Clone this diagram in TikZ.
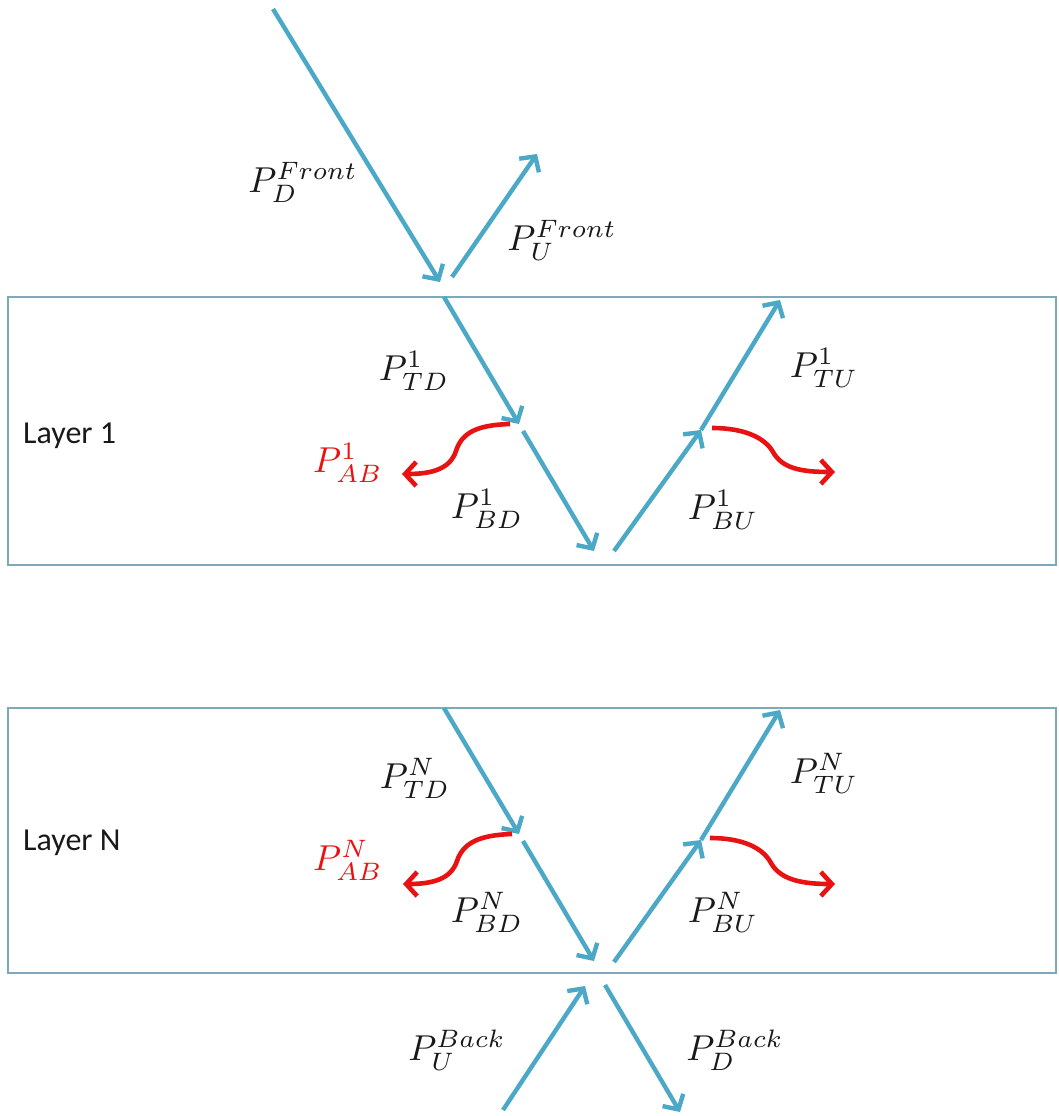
\documentclass[tikz,border=0pt]{standalone}
\usepackage{graphicx}
\usepackage{fontspec}
\setsansfont{Carlito}
\usetikzlibrary{arrows.meta}
\definecolor{raycyan}{RGB}{75,168,198}
\definecolor{absred}{RGB}{232,18,18}
\definecolor{layeredge}{RGB}{125,170,185}
\newcommand{\fluxlbl}[1]{\scalebox{3.6}{$#1$}}
\tikzset{
  layerbox/.style={draw=layeredge, line width=2.2pt, minimum width=1048pt, inner sep=0pt},
  ray/.style={-{Straight Barb[length=11pt,width=24pt]}, draw=raycyan, line width=4.4pt},
  absorb/.style={-{Straight Barb[length=11pt,width=24pt]}, draw=absred, line width=4.6pt},
  flux/.style={inner sep=0pt, text=black!90},
  fluxred/.style={flux, text=absred},
  layerlabel/.style={font=\sffamily\fontsize{32}{36}\selectfont, anchor=west, inner sep=0pt, text=black!90}
}

\begin{document}
\begin{tikzpicture}[x=1pt,y=-1pt]
  \useasboundingbox (0,0) rectangle (1058,1116);

  % layers
  \node[layerbox, minimum height=268pt] (layer1) at (532,431) {};
  \node[layerbox, minimum height=265pt] (layerN) at (532,840.5) {};
  \node[layerlabel] (lab1) at (23,436) {Layer 1};
  \node[layerlabel] (labN) at (23,843) {Layer N};

  % end points of the rays
  \coordinate (fdS) at (273,9);
  \coordinate (fdE) at (440,282);
  \coordinate (fuS) at (452,277);
  \coordinate (fuE) at (537,154);

  \coordinate (d1a) at (444,297);
  \coordinate (d1b) at (519,424);
  \coordinate (d1c) at (523,431);
  \coordinate (d1d) at (594,551);
  \coordinate (u1a) at (614,551);
  \coordinate (u1b) at (701,430);
  \coordinate (u1c) at (780,300);
  \coordinate (a1s) at (510,424);
  \coordinate (a1e) at (402,474);
  \coordinate (r1s) at (712,428);
  \coordinate (r1e) at (835,472);

  \coordinate (dNa) at (444,708);
  \coordinate (dNb) at (519,834);
  \coordinate (dNc) at (523,841);
  \coordinate (dNd) at (594,961);
  \coordinate (uNa) at (614,962);
  \coordinate (uNb) at (701,840);
  \coordinate (uNc) at (780,710);
  \coordinate (aNs) at (512,834);
  \coordinate (aNe) at (403,884);
  \coordinate (rNs) at (710,838);
  \coordinate (rNe) at (835,884);

  \coordinate (buS) at (503,1110);
  \coordinate (buE) at (585,986);
  \coordinate (bdS) at (605,985);
  \coordinate (bdE) at (680,1112);

  % rays
  \draw[ray] (fdS) -- (fdE);
  \draw[ray] (fuS) -- (fuE);
  \draw[ray] (d1a) -- (d1b);
  \draw[ray] (d1c) -- (d1d);
  \draw[ray] (u1a) -- (u1b);
  \draw[ray] (u1b) -- (u1c);
  \draw[ray] (dNa) -- (dNb);
  \draw[ray] (dNc) -- (dNd);
  \draw[ray] (uNa) -- (uNb);
  \draw[ray] (uNb) -- (uNc);
  \draw[ray] (buS) -- (buE);
  \draw[ray] (bdS) -- (bdE);

  % absorbed parts
  \draw[absorb] (a1s) .. controls (478,425) and (462,432) .. (456,451) .. controls (450,469) and (432,474) .. (a1e);
  \draw[absorb] (r1s) .. controls (745,428) and (765,438) .. (773,452) .. controls (782,468) and (800,472) .. (r1e);
  \draw[absorb] (aNs) .. controls (479,835) and (463,843) .. (457,861) .. controls (451,879) and (433,884) .. (aNe);
  \draw[absorb] (rNs) .. controls (743,838) and (763,848) .. (771,863) .. controls (780,879) and (800,884) .. (rNe);

  % labels
  \node[flux] (pdf) at (303,182) {\fluxlbl{P_D^{Front}}};
  \node[flux] (puf) at (562,240) {\fluxlbl{P_U^{Front}}};
  \node[flux] (ptd1) at (414,371) {\fluxlbl{P_{TD}^1}};
  \node[flux] (pbd1) at (487,509) {\fluxlbl{P_{BD}^1}};
  \node[fluxred] (pab1) at (348,463) {\fluxlbl{P_{AB}^1}};
  \node[flux] (ptu1) at (824,368) {\fluxlbl{P_{TU}^1}};
  \node[flux] (pbu1) at (723,510) {\fluxlbl{P_{BU}^1}};
  \node[flux] (ptdN) at (415,778) {\fluxlbl{P_{TD}^N}};
  \node[fluxred] (pabN) at (348,860) {\fluxlbl{P_{AB}^N}};
  \node[flux] (pbdN) at (487,912) {\fluxlbl{P_{BD}^N}};
  \node[flux] (ptuN) at (824,773) {\fluxlbl{P_{TU}^N}};
  \node[flux] (pbuN) at (723,912) {\fluxlbl{P_{BU}^N}};
  \node[flux] (pub) at (457,1050) {\fluxlbl{P_U^{Back}}};
  \node[flux] (pdb) at (735,1050) {\fluxlbl{P_D^{Back}}};
\end{tikzpicture}
\end{document}
